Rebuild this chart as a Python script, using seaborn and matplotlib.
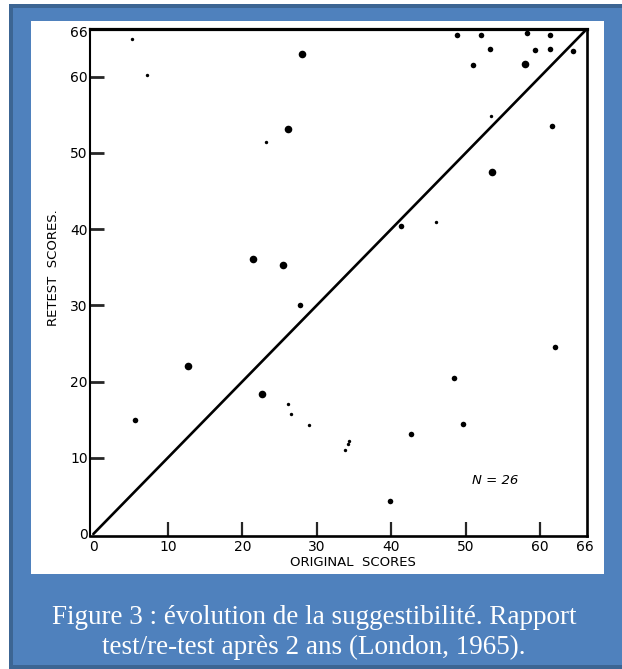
import matplotlib
matplotlib.use("Agg")
import matplotlib.pyplot as plt
from matplotlib.patches import Rectangle
import seaborn as sns
import pandas as pd

# ---- data ----
big_x = [21.4, 25.5, 28.0, 26.2, 53.5, 12.7, 22.6, 58.0]
big_y = [36.1, 35.3, 63.0, 53.1, 47.5, 22.0, 18.4, 61.7]

mid_x = [41.3, 61.6, 48.8, 52.0, 58.3, 61.3, 53.3, 59.3, 61.3, 64.4, 51.0,
         27.7, 5.6, 48.5, 42.7, 39.8, 62.0, 49.7]
mid_y = [40.4, 53.6, 65.5, 65.5, 65.7, 65.5, 63.6, 63.5, 63.7, 63.4, 61.5,
         30.1, 15.0, 20.5, 13.1, 4.3, 24.6, 14.4]

small_x = [7.2, 23.2, 46.0, 53.4, 26.5, 29.0, 34.2, 33.8, 26.1, 34.4, 5.2]
small_y = [60.2, 51.4, 41.0, 54.8, 15.8, 14.3, 11.8, 11.0, 17.0, 12.2, 64.9]

diag_x = [0, 66]
diag_y = [0, 66]

tick_values = [0, 10, 20, 30, 40, 50, 60, 66]
tick_labels = ["0", "10", "20", "30", "40", "50", "60", "66"]

x_label = "ORIGINAL  SCORES"
y_label = "RETEST  SCORES."
n_text = "N = 26"
caption_1 = "Figure 3 : évolution de la suggestibilité. Rapport"
caption_2 = "test/re-test après 2 ans (London, 1965)."

# ---- figure ----
sns.set_style("white")
plt.rcParams["font.family"] = ["DejaVu Sans"]

W, H = 622, 669
fig = plt.figure(figsize=(W / 100, H / 100), dpi=100)
fig.patch.set_facecolor("white")


def frect(x0, y0, x1, y1, color, z):
    fig.patches.append(Rectangle((x0 / W, 1 - y1 / H), (x1 - x0) / W, (y1 - y0) / H,
                                 transform=fig.transFigure, facecolor=color,
                                 edgecolor="none", zorder=z))


frect(9, 4, 622, 669, "#3C6593", 0)
frect(13, 8, 622, 665, "#4F81BD", 1)
frect(30.5, 21, 604, 574, "white", 2)

ax = fig.add_axes([90 / W, (H - 535.5) / H, 497 / W, 506.7 / H])
ax.set_facecolor("none")
ax.set_zorder(3)

sns.lineplot(x=diag_x, y=diag_y, color="black", linewidth=1.9, ax=ax)
sns.scatterplot(x=big_x, y=big_y, s=30, color="black", linewidth=0, ax=ax)
sns.scatterplot(x=mid_x, y=mid_y, s=16, color="black", linewidth=0, ax=ax)
sns.scatterplot(x=small_x, y=small_y, s=6, color="black", linewidth=0, ax=ax)

ax.set_xlim(-0.45, 66.3)
ax.set_ylim(-0.2, 66.3)

ax.set_xticks(tick_values)
ax.set_xticklabels(tick_labels)
ax.set_yticks(tick_values)
ax.set_yticklabels(tick_labels)

ax.tick_params(axis="y", direction="in", length=10, width=2.0, pad=1.5,
               labelsize=10, labelcolor="black", left=True, right=False)
ax.tick_params(axis="x", direction="in", length=10, width=1.6, pad=3.5,
               labelsize=10, labelcolor="black", bottom=True, top=False)
for t in ax.yaxis.get_major_ticks():
    if t.get_loc() in (0, 66):
        t.tick1line.set_visible(False)
for t in ax.xaxis.get_major_ticks():
    if t.get_loc() in (0, 66):
        t.tick1line.set_visible(False)

for side, lw in (("top", 2.3), ("bottom", 1.9), ("left", 1.5), ("right", 1.9)):
    ax.spines[side].set_visible(True)
    ax.spines[side].set_linewidth(lw)
    ax.spines[side].set_color("black")

ax.set_xlabel(x_label, fontsize=9.5, color="black", va="center")
ax.xaxis.set_label_coords(0.529, -0.0537)
ax.set_ylabel(y_label, fontsize=9.5, color="black", va="center", ha="center")
ax.yaxis.set_label_coords(-0.0732, 0.528)

ax.text(53.9, 7.0, n_text, fontsize=9.5, style="italic", ha="center", va="center",
        color="black")

fig.text(0.505, 1 - 617 / H, caption_1, ha="center", va="center", color="white",
         fontsize=19.5, family="Liberation Serif", zorder=5)
fig.text(0.505, 1 - 647 / H, caption_2, ha="center", va="center", color="white",
         fontsize=19.5, family="Liberation Serif", zorder=5)

fig.savefig("out.png", dpi=100)
